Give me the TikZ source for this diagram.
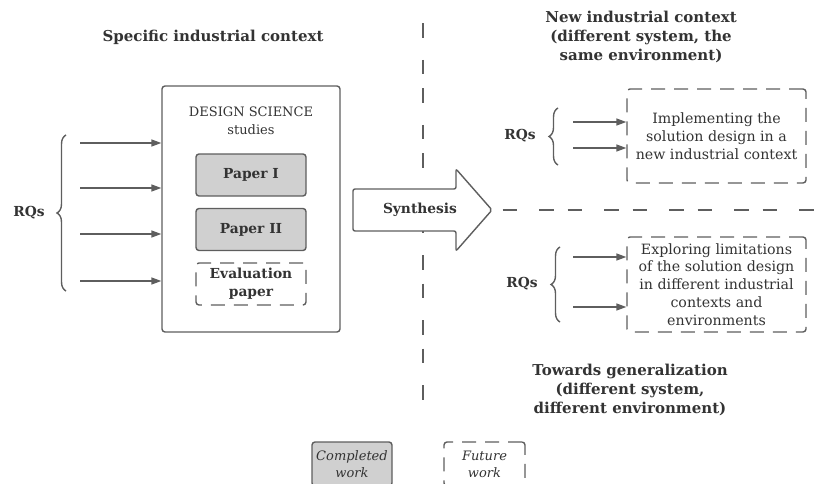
\documentclass[tikz,border=0pt]{standalone}
\usepackage{fontspec}
\setmainfont{DejaVu Serif}
\usetikzlibrary{arrows.meta,decorations.pathreplacing}
\definecolor{ink}{HTML}{333333}
\definecolor{edge}{HTML}{5E5E5E}
\definecolor{done}{HTML}{D0D0D0}
\tikzset{
  every node/.style={text=ink, font=\fontsize{13}{18}\selectfont},
  head/.style={font=\fontsize{15}{19}\selectfont\bfseries, align=center},
  frame/.style={draw=edge, line width=1.4pt, rounded corners=3pt},
  paperbox/.style={frame, fill=done, minimum width=110pt, minimum height=42pt, inner sep=0pt, align=center, font=\fontsize{13.8}{18}\selectfont\bfseries},
  futurebox/.style={frame, dash pattern=on 14pt off 9pt, align=center},
  boxtext/.style={font=\fontsize{14.2}{17.8}\selectfont},
  feed/.style={draw=edge, line width=1.4pt, -{Triangle[length=10pt,width=7pt]}},
  curly/.style={draw=edge, line width=1.4pt, decorate, decoration={brace, amplitude=9pt}},
  divider/.style={draw=edge, line width=1.6pt, dash pattern=on 14.5pt off 14pt on 14.5pt off 22pt},
  rq/.style={font=\fontsize{13.8}{18}\selectfont\bfseries}
}
\begin{document}
\begin{tikzpicture}[x=1pt, y=-1pt]
\useasboundingbox (0,0) rectangle (819,484);

% section dividers
\coordinate (vtop) at (423,15);
\coordinate (vbot) at (423,403);
\draw[divider, dash phase=20pt] (vtop) -- (vbot);

% left part: design science studies
\node[head] (t1) at (213,37) {Specific industrial context};
\node[frame, minimum width=178pt, minimum height=246pt] (ds) at (251,209) {};
\node[align=center] (dst) at (251,121) {DESIGN SCIENCE\\studies};
\node[paperbox] (p1) at (251,175) {Paper I};
\node[paperbox] (p2) at (251,229.5) {Paper II};
\node[paperbox, fill=none, dash pattern=on 14pt off 9pt] (ev) at (251,284) {Evaluation\\paper};

\node[rq] (rq1) at (29,213) {RQs};
\coordinate (b1a) at (66,291);
\coordinate (b1b) at (66,135);
\draw[curly] (b1a) -- (b1b);
\foreach \y/\n in {143/a,188/b,234/c,281/d}{
  \coordinate (s\n) at (80,\y);
  \draw[feed] (s\n) -- (ds.west |- s\n);
}

% synthesis arrow
\coordinate (tip) at (492,210);
\coordinate (rend) at (819,210);
\draw[divider, dash phase=18pt] (tip) -- (rend);
\draw[frame, rounded corners=2pt, fill=white]
  (353,189) -- (456,189) -- (456,169) -- (tip) -- (456,251) -- (456,231) -- (353,231) -- cycle;
\node[rq] (syn) at (420,210) {Synthesis};

% right part: new industrial context
\node[head] (t2) at (641,37) {New industrial context\\(different system, the\\same environment)};
\node[futurebox, boxtext, minimum width=179pt, minimum height=94pt] (fa) at (716.5,136)
  {Implementing the\\solution design in a\\new industrial context};
\node[rq] (rq2) at (520,136) {RQs};
\draw[curly] (558,165) -- (558,108);
\foreach \y/\n in {122/e,148/f}{
  \coordinate (s\n) at (573,\y);
  \draw[feed] (s\n) -- (fa.west |- s\n);
}

% right part: towards generalization
\node[futurebox, boxtext, minimum width=179pt, minimum height=95pt] (fb) at (716.5,284.5)
  {Exploring limitations\\of the solution design\\in different industrial\\contexts and\\environments};
\node[rq] (rq3) at (522,284) {RQs};
\draw[curly] (560,322) -- (560,247);
\foreach \y/\n in {257/g,307/h}{
  \coordinate (s\n) at (573,\y);
  \draw[feed] (s\n) -- (fb.west |- s\n);
}
\node[head] (t3) at (630,390) {Towards generalization\\(different system,\\different environment)};

% legend
\node[frame, fill=done, minimum width=80pt, minimum height=44pt, align=center,
      font=\fontsize{13}{17}\selectfont\itshape] (lg1) at (352,464) {Completed\\work};
\node[futurebox, minimum width=81pt, minimum height=44pt,
      font=\fontsize{13}{17}\selectfont\itshape] (lg2) at (484.5,464) {Future\\work};
\end{tikzpicture}
\end{document}
